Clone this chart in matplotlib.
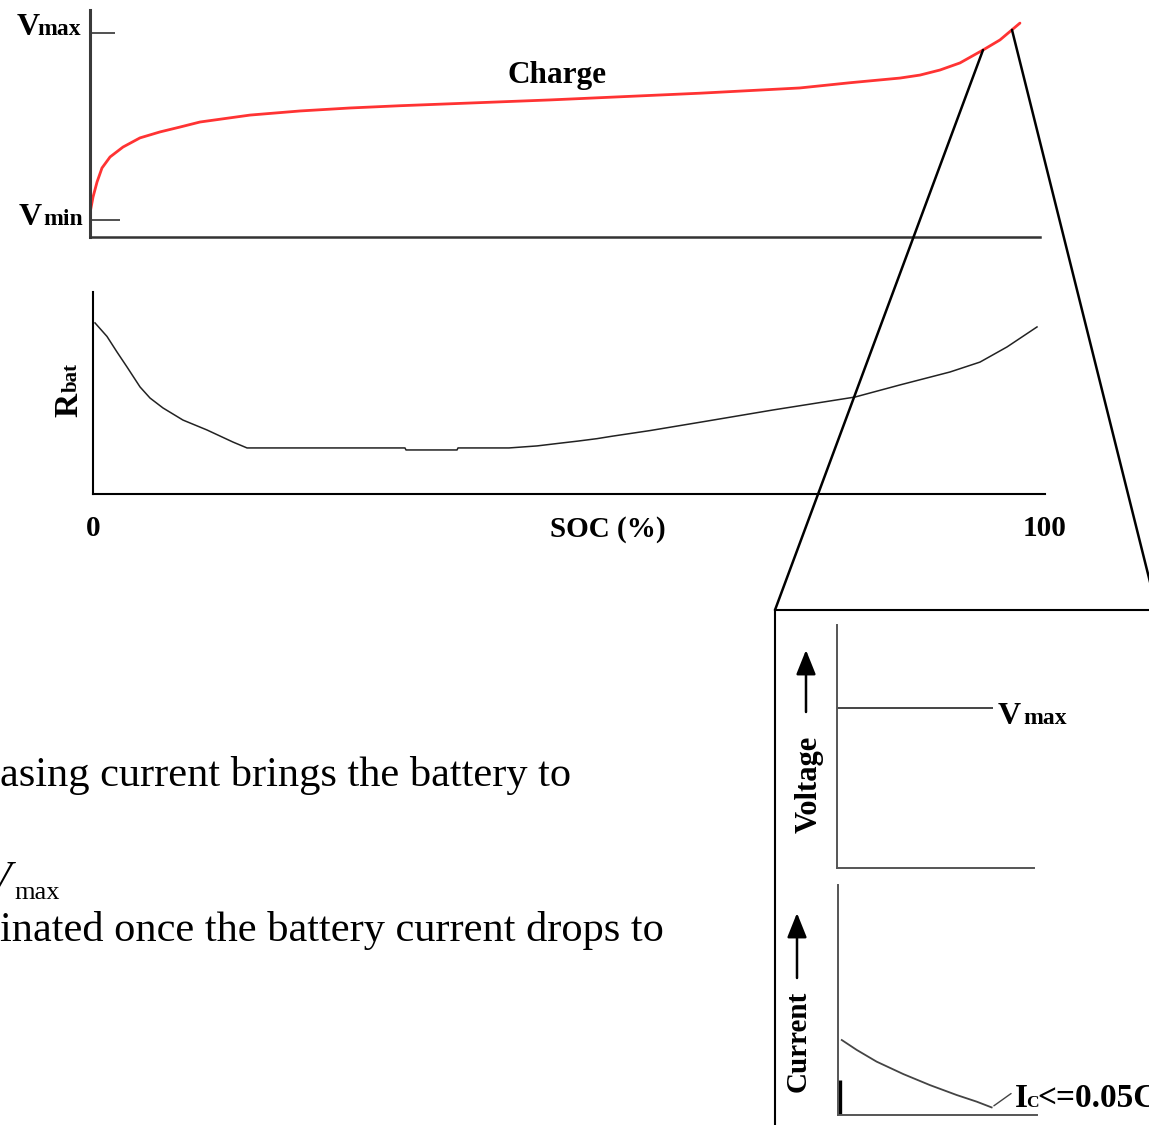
import matplotlib.pyplot as plt
import numpy as np
from matplotlib.patches import ConnectionPatch

plt.rcParams['font.family'] = ['Liberation Serif', 'DejaVu Serif']

W, H = 1149, 1125

# charge voltage vs SOC, voltage scaled so that Vmin = 0 and Vmax = 1
charge_soc = [0, 0.32, 0.74, 1.26, 2.11, 3.47, 5.26, 7.37, 9.47, 11.58, 16.84,
              22.1, 27.37, 32.6, 48.4, 64.2, 74.7, 80.0, 85.26, 87.37, 89.47,
              91.58, 94.0, 95.79, 97.89]
charge_v = [0.037, 0.123, 0.203, 0.278, 0.337, 0.390, 0.439, 0.471, 0.497, 0.524,
            0.561, 0.583, 0.599, 0.611, 0.642, 0.678, 0.706, 0.734, 0.759, 0.775,
            0.802, 0.840, 0.909, 0.963, 1.053]

# battery internal resistance vs SOC (arbitrary units)
rbat_soc = [0.21, 1.47, 2.52, 3.57, 4.94, 5.99, 7.35, 9.45, 11.97, 14.71, 16.18,
            32.77, 32.88, 38.24, 38.34, 43.7, 46.64, 48.95, 50.95, 52.94, 54.52,
            56.09, 58.51, 64.5, 71.43, 80.04, 84.77, 90.02, 93.17, 96.01, 99.16]
rbat = [0.847, 0.780, 0.703, 0.629, 0.530, 0.475, 0.426, 0.366, 0.317, 0.257, 0.228,
        0.228, 0.218, 0.218, 0.228, 0.228, 0.238, 0.251, 0.262, 0.274, 0.286,
        0.297, 0.314, 0.361, 0.416, 0.480, 0.540, 0.604, 0.653, 0.728, 0.827]

# SOC range blown up in the inset
zoom_soc = [94.0, 97.05]

# constant-voltage stage: voltage held at Vmax, current decays to cutoff
cv_level = 0.658
cv_end = 0.792
cur_t = [0.019, 0.094, 0.194, 0.328, 0.462, 0.596, 0.697, 0.772]
cur_i = [0.326, 0.283, 0.232, 0.178, 0.130, 0.087, 0.058, 0.033]
spike_t = 0.012
spike_i = 0.152


def fx(px):
    return px / W


def fy(py):
    return 1 - py / H


def add_ax(left, top, right, bottom):
    return fig.add_axes([fx(left), fy(bottom), (right - left) / W, (bottom - top) / H])


def ptext(x, y, s, size, bold=True, **kw):
    fig.text(fx(x), fy(y), s, fontsize=size, fontweight='bold' if bold else 'normal',
             va='baseline', **kw)


def up_arrow(x, y0, y1):
    fig_ax.annotate('', xy=(x, H - y1), xytext=(x, H - y0),
                    xycoords='figure pixels', textcoords='figure pixels',
                    arrowprops=dict(arrowstyle='-|>,head_length=0.75,head_width=0.3',
                                    mutation_scale=20, color='black', lw=1.8,
                                    shrinkA=0, shrinkB=0))


fig = plt.figure(figsize=(W / 100, H / 100), dpi=100)

# charge curve
ax_top = add_ax(90, 10, 1040, 237)
ax_top.plot(charge_soc, charge_v, color='#ff3333', lw=2.0, solid_capstyle='round')
ax_top.set_xlim(0, 100)
ax_top.set_ylim(-0.091, 1.123)
for s in ['top', 'right']:
    ax_top.spines[s].set_visible(False)
ax_top.spines['left'].set_linewidth(2.2)
ax_top.spines['left'].set_color('#3a3a3a')
ax_top.spines['bottom'].set_linewidth(1.8)
ax_top.spines['bottom'].set_color('#333333')
ax_top.set_xticks([])
ax_top.set_yticks([1])
ax_top.set_yticks([0], minor=True)
ax_top.set_yticklabels([])
ax_top.tick_params(axis='y', which='major', direction='in', length=18, width=1.2, color='#333333')
ax_top.tick_params(axis='y', which='minor', direction='in', length=21.5, width=1.2, color='#333333')
ax_top.patch.set_alpha(0)

ptext(40, 35, 'V', 23, ha='right')
ptext(81, 35, 'max', 17, ha='right')
ptext(42, 225, 'V', 23, ha='right')
ptext(83, 225, 'min', 17, ha='right')
ptext(557, 83, 'Charge', 22.5, ha='center')

# resistance curve
ax_r = add_ax(93, 292, 1045, 494)
ax_r.plot(rbat_soc, rbat, color='#222222', lw=1.1)
ax_r.set_xlim(0, 100)
ax_r.set_ylim(0, 1)
for s in ['top', 'right']:
    ax_r.spines[s].set_visible(False)
for s in ['left', 'bottom']:
    ax_r.spines[s].set_linewidth(1.5)
ax_r.set_yticks([])
ax_r.set_xticks([0, 100])
ax_r.set_xticklabels(['0', '100'], fontsize=21, fontweight='bold')
ax_r.tick_params(axis='x', length=0, pad=15)
ax_r.patch.set_alpha(0)

ptext(608, 537, 'SOC (%)', 21, ha='center')
ptext(77, 417, 'R', 24, rotation=90, rotation_mode='anchor', ha='left')
ptext(77, 392, 'bat', 15, rotation=90, rotation_mode='anchor', ha='left')

# inset frame and the lines linking it to the end of the charge curve
box = add_ax(775, 610, 1157, 1145)
box.set_xticks([])
box.set_yticks([])
box.patch.set_alpha(0)
for s in box.spines.values():
    s.set_linewidth(1.5)
    s.set_color('black')

for k, corner in enumerate([(0, 1), (1, 1)]):
    soc = zoom_soc[k]
    v = np.interp(soc, charge_soc, charge_v)
    con = ConnectionPatch(xyA=(soc, v), coordsA='data', axesA=ax_top,
                          xyB=corner, coordsB='axes fraction', axesB=box,
                          color='black', lw=1.8)
    fig.add_artist(con)

# inset: voltage
ax_v = add_ax(837, 625, 1034, 868)
ax_v.hlines(cv_level, 0, cv_end, color='#444444', lw=1.4)
ax_v.set_xlim(0, 1)
ax_v.set_ylim(0, 1)
ax_v.set_xticks([])
ax_v.set_yticks([])
for s in ['top', 'right']:
    ax_v.spines[s].set_visible(False)
for s in ['left', 'bottom']:
    ax_v.spines[s].set_linewidth(1.4)
    ax_v.spines[s].set_color('#555555')
ax_v.patch.set_alpha(0)

ptext(998, 724, 'V', 23)
ptext(1023, 724, 'max', 17)
ptext(817, 833, 'Voltage', 22, rotation=90, rotation_mode='anchor', ha='left')

# inset: current
ax_i = add_ax(838, 885, 1037, 1115)
ax_i.plot(cur_t, cur_i, color='#444444', lw=1.3)
ax_i.vlines(spike_t, 0, spike_i, color='black', lw=2.4)
ax_i.annotate('', xy=(cur_t[-1], cur_i[-1]), xytext=(14, 10), textcoords='offset points',
              arrowprops=dict(arrowstyle='-', color='#444444', lw=1.0, shrinkA=0, shrinkB=2))
ax_i.set_xlim(0, 1)
ax_i.set_ylim(0, 1)
ax_i.set_xticks([])
ax_i.set_yticks([])
for s in ['top', 'right']:
    ax_i.spines[s].set_visible(False)
for s in ['left', 'bottom']:
    ax_i.spines[s].set_linewidth(1.4)
    ax_i.spines[s].set_color('#555555')
ax_i.patch.set_alpha(0)

ptext(1015, 1107, 'I', 24)
ptext(1026, 1107, 'C', 12.5)
ptext(1037, 1107, '<=0.05C', 24)
ptext(806, 1092, 'Current', 21, rotation=90, rotation_mode='anchor', ha='left')

# overlay for the axis-direction arrows, kept above every other axes
fig_ax = fig.add_axes([0, 0, 1, 1], zorder=10)
fig_ax.axis('off')
up_arrow(806, 712, 650)
up_arrow(797, 978, 913)

# body text running under the plots
ptext(0, 786, 'asing current brings the battery to', 30.5, bold=False)
ptext(12, 890, 'V', 30.5, bold=False, style='italic', ha='right')
ptext(14, 899, 'max', 19, bold=False)
ptext(0, 941, 'inated once the battery current drops to', 30.5, bold=False)

fig.savefig('out.png', dpi=100, facecolor='white')
